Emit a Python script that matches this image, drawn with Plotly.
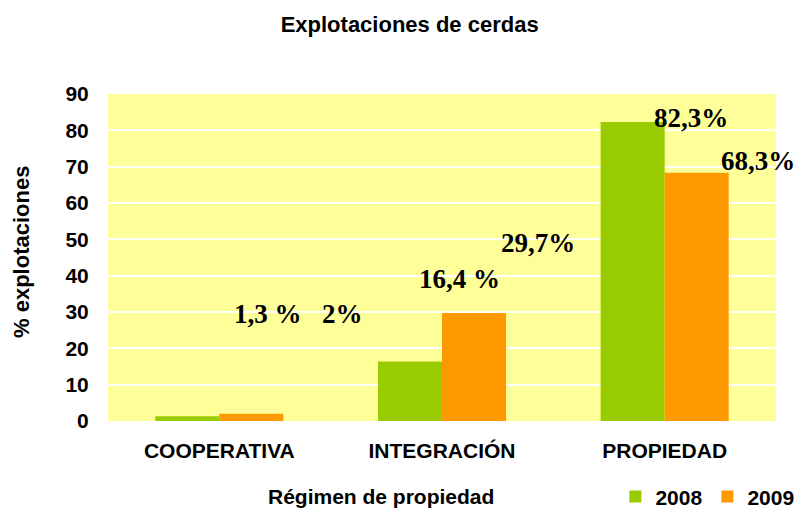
import plotly.graph_objects as go

categories = ["COOPERATIVA", "INTEGRACIÓN", "PROPIEDAD"]
values_2008 = [1.3, 16.4, 82.3]
values_2009 = [2.0, 29.7, 68.3]
labels_2008 = ["1,3 %", "16,4 %", "82,3%"]
labels_2009 = ["2%", "29,7%", "68,3%"]
y_ticks = [0, 10, 20, 30, 40, 50, 60, 70, 80, 90]

# label placement (as in the original, labels float near the bars)
lab_pos_2008 = [(0.22, 29.4), (1.08, 39.2), (2.12, 83.4)]
lab_pos_2009 = [(0.555, 29.4), (1.43, 49.0), (2.42, 71.6)]

fig = go.Figure()
fig.add_trace(go.Bar(x=categories, y=values_2008, name="<b>2008</b>",
                     marker=dict(color="#99CC00", line=dict(width=0))))
fig.add_trace(go.Bar(x=categories, y=values_2009, name="<b>2009</b>",
                     marker=dict(color="#FF9900", line=dict(width=0))))

annotations = []
for (px, py), t in zip(lab_pos_2008 + lab_pos_2009, labels_2008 + labels_2009):
    annotations.append(dict(x=px, y=py, xref="x", yref="y", text="<b>%s</b>" % t, showarrow=False,
                            font=dict(family="Liberation Serif", size=27, color="black"),
                            xanchor="center", yanchor="middle"))
# axis titles
annotations.append(dict(x=-0.1287, y=0.517, xref="paper", yref="paper", textangle=-90,
                        text="<b>% explotaciones</b>", showarrow=False,
                        font=dict(size=22, color="black"), xanchor="center", yanchor="middle"))
annotations.append(dict(x=0.409, y=-0.232, xref="paper", yref="paper",
                        text="<b>Régimen de propiedad</b>", showarrow=False,
                        font=dict(size=21, color="black"), xanchor="center", yanchor="middle"))

fig.update_layout(
    width=797, height=511,
    margin=dict(l=108, r=21, t=94, b=90, autoexpand=False),
    paper_bgcolor="white", plot_bgcolor="#FFFF99",
    font=dict(family="Liberation Sans", color="black"),
    title=dict(text="<b>Explotaciones de cerdas</b>", x=0.514, xanchor="center",
               y=0.953, yanchor="middle", font=dict(size=22, color="black")),
    barmode="group", bargap=0.425, bargroupgap=0,
    showlegend=True,
    legend=dict(orientation="h", x=1.035, xanchor="right", y=-0.232, yanchor="middle",
                font=dict(size=21, color="black"), bgcolor="rgba(0,0,0,0)",
                itemwidth=30, traceorder="normal"),
    annotations=annotations,
)
fig.update_xaxes(range=[-0.5, 2.5], autorange=False,
                 ticktext=["<b>%s</b>" % c for c in categories], tickvals=categories,
                 tickfont=dict(size=21, color="black"), ticks="outside", ticklen=11,
                 tickcolor="rgba(0,0,0,0)", showline=False, automargin=False)
fig.update_yaxes(range=[0, 90], autorange=False, tickvals=y_ticks,
                 ticktext=["<b>%d</b>" % v for v in y_ticks],
                 tickfont=dict(size=21, color="black"), showgrid=True, gridcolor="white",
                 gridwidth=1.5, zeroline=False, ticks="outside", ticklen=14,
                 tickcolor="rgba(0,0,0,0)", automargin=False)
fig.write_html("out.html", config={"displayModeBar": False},
               post_script="document.body.style.margin='0';document.body.style.overflow='hidden';")
